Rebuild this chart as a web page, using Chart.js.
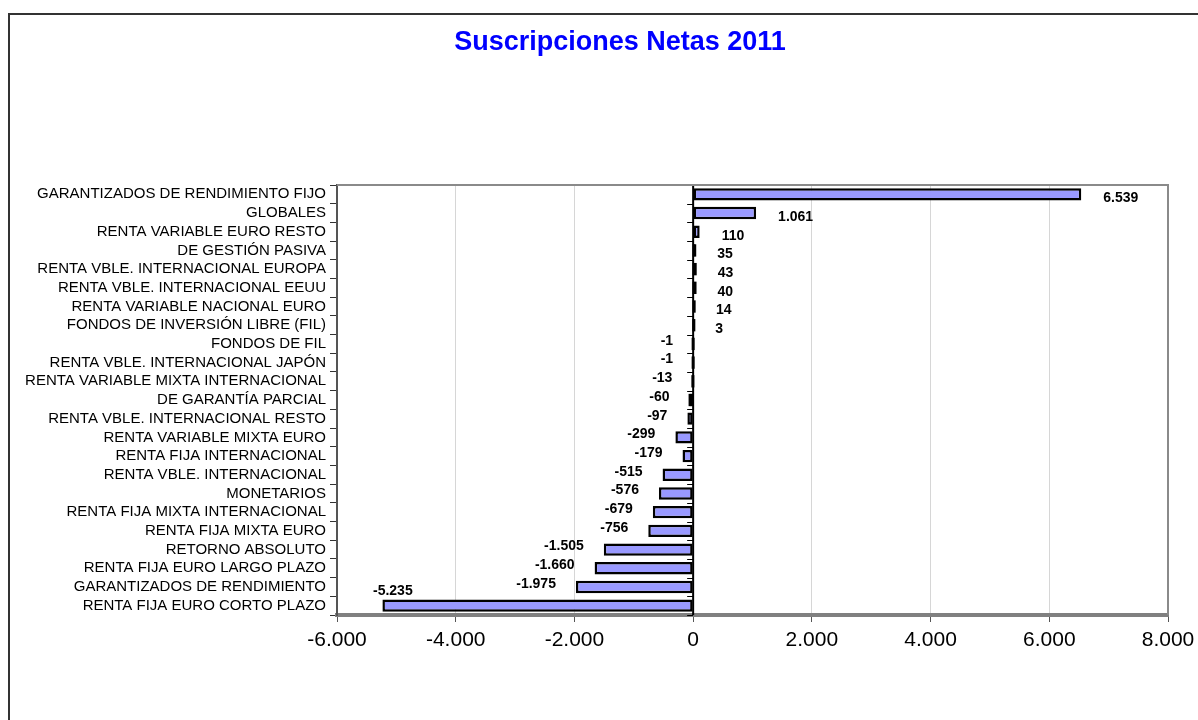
<!DOCTYPE html>
<html>
<head>
<meta charset="utf-8">
<script src="https://cdn.jsdelivr.net/npm/chart.js@4/dist/chart.umd.min.js"></script>
<style>
  html, body { margin: 0; padding: 0; background: #fff; overflow: hidden; }
  #marco {
    position: absolute; left: 8px; top: 13px;
    width: 1220px; height: 705px;
    border-left: 2px solid #333; border-top: 2px solid #333;
  }
  canvas { display: block; }
</style>
</head>
<body>
<div id="marco"><canvas id="suscripciones" width="1220" height="705"></canvas></div>
<script>
var categorias = [
  "GARANTIZADOS DE RENDIMIENTO FIJO",
  "GLOBALES",
  "RENTA VARIABLE EURO RESTO",
  "DE GESTIÓN PASIVA",
  "RENTA VBLE. INTERNACIONAL EUROPA",
  "RENTA VBLE. INTERNACIONAL EEUU",
  "RENTA VARIABLE NACIONAL EURO",
  "FONDOS DE INVERSIÓN LIBRE (FIL)",
  "FONDOS DE FIL",
  "RENTA VBLE. INTERNACIONAL JAPÓN",
  "RENTA VARIABLE MIXTA INTERNACIONAL",
  "DE GARANTÍA PARCIAL",
  "RENTA VBLE. INTERNACIONAL RESTO",
  "RENTA VARIABLE MIXTA EURO",
  "RENTA FIJA INTERNACIONAL",
  "RENTA VBLE. INTERNACIONAL",
  "MONETARIOS",
  "RENTA FIJA MIXTA INTERNACIONAL",
  "RENTA FIJA MIXTA EURO",
  "RETORNO ABSOLUTO",
  "RENTA FIJA EURO LARGO PLAZO",
  "GARANTIZADOS DE RENDIMIENTO",
  "RENTA FIJA EURO CORTO PLAZO"
];
var netas = [6539, 1061, 110, 35, 43, 40, 14, 3, -1, -1, -13, -60, -97, -299, -179, -515, -576, -679, -756, -1505, -1660, -1975, -5235];
var titulo = "Suscripciones Netas 2011";
var ejeMin = -6000, ejeMax = 8000, ejePaso = 2000;

// miles con punto: 6539 -> 6.539
function miles(v) {
  var s = String(Math.abs(v)).replace(/\B(?=(\d{3})+(?!\d))/g, ".");
  return (v < 0 ? "-" : "") + s;
}

var extras = {
  id: 'extras',
  beforeDatasetsDraw: function(chart) {
    var ctx = chart.ctx, a = chart.chartArea;
    var x0 = chart.scales.x.getPixelForValue(0);
    var n = categorias.length;
    ctx.save();
    // linea del cero con marcas
    ctx.strokeStyle = '#000';
    ctx.lineWidth = 2;
    ctx.beginPath();
    ctx.moveTo(x0, a.top);
    ctx.lineTo(x0, a.bottom);
    ctx.stroke();
    ctx.lineWidth = 1;
    ctx.beginPath();
    for (var i = 0; i <= n; i++) {
      var y = Math.round(a.top + i * (a.bottom - a.top) / n) + 0.5;
      ctx.moveTo(x0 - 6, y);
      ctx.lineTo(x0, y);
    }
    ctx.stroke();
    ctx.restore();
  },
  afterDatasetsDraw: function(chart) {
    var ctx = chart.ctx, a = chart.chartArea;
    ctx.save();
    // borde del area
    ctx.strokeStyle = '#8a8a8a';
    ctx.lineWidth = 2;
    ctx.beginPath();
    ctx.moveTo(a.left, a.top);
    ctx.lineTo(a.right, a.top);
    ctx.lineTo(a.right, a.bottom);
    ctx.stroke();
    // barras casi nulas: solo se ve el contorno
    ctx.fillStyle = '#000';
    chart.getDatasetMeta(0).data.forEach(function(bar) {
      if (Math.abs(bar.x - bar.base) < 4) {
        var l = Math.min(bar.x, bar.base), w = Math.max(3, Math.abs(bar.x - bar.base) + 2);
        ctx.fillRect(l - 1, bar.y - bar.height / 2, w, bar.height);
      }
    });
    // etiquetas de valor
    ctx.font = 'bold 14px "Liberation Sans", Arial, sans-serif';
    ctx.textBaseline = 'middle';
    chart.getDatasetMeta(0).data.forEach(function(bar, i) {
      var v = netas[i], t = miles(v);
      if (v >= 0) {
        ctx.textAlign = 'left';
        ctx.fillText(t, bar.x + 22, bar.y + 4);
      } else {
        var w = ctx.measureText(t).width;
        var r = bar.x - 20, y = bar.y - 3;
        if (r - w < a.left + 30) { r = a.left + w + 36; y = bar.y - 15; }
        ctx.textAlign = 'right';
        ctx.fillText(t, r, y);
      }
    });
    // titulo
    ctx.font = 'bold 27px "Liberation Sans", Arial, sans-serif';
    ctx.fillStyle = '#0000FF';
    ctx.textAlign = 'center';
    ctx.fillText(titulo, chart.width / 2, 28);
    ctx.restore();
  }
};

var c = document.getElementById("suscripciones");
var ctx = c.getContext("2d");
var datos = {
  type: 'bar',
  data: {
    labels: categorias,
    datasets: [{
      label: titulo,
      data: netas,
      backgroundColor: '#9999FF',
      borderColor: '#000',
      borderWidth: 2.5,
      borderSkipped: false,
      barPercentage: 0.66,
      categoryPercentage: 1
    }]
  },
  options: {
    indexAxis: 'y',
    responsive: false,
    animation: false,
    devicePixelRatio: 1,
    layout: { padding: { top: 170, right: 62, bottom: 55, left: 0 } },
    plugins: {
      legend: { display: false },
      title: { display: false },
      tooltip: { enabled: false }
    },
    scales: {
      x: {
        min: ejeMin,
        max: ejeMax,
        afterFit: function(s) { s.height = 50; },
        ticks: {
          stepSize: ejePaso,
          color: '#000',
          padding: 6,
          maxRotation: 0,
          font: { family: '"Liberation Sans", Arial, sans-serif', size: 21 },
          callback: function(v) { return miles(v); }
        },
        grid: { color: '#d6d6d6', lineWidth: 1, tickLength: 7, tickColor: '#555' },
        border: { display: true, color: '#808080', width: 4 }
      },
      y: {
        afterFit: function(s) { s.width = 327; },
        offset: true,
        ticks: {
          color: '#000',
          padding: 4,
          autoSkip: false,
          font: { family: '"Liberation Sans", Arial, sans-serif', size: 15 }
        },
        grid: { offset: true, drawOnChartArea: false, tickLength: 7, tickColor: '#333' },
        border: { display: true, color: '#555', width: 2 }
      }
    }
  },
  plugins: [extras]
};
var chart = new Chart(ctx, datos);
</script>
</body>
</html>
